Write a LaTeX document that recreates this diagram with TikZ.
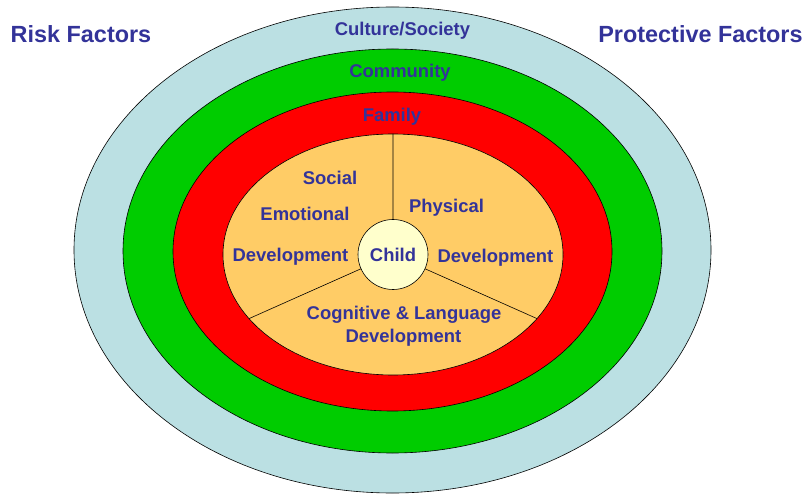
\documentclass[tikz,border=0pt]{standalone}
\usepackage{fontspec}
\setmainfont{Liberation Sans}
\usetikzlibrary{shapes.geometric}
\definecolor{txtblue}{HTML}{333399}
\definecolor{culturec}{HTML}{BBE0E3}
\definecolor{communityc}{HTML}{00CC00}
\definecolor{familyc}{HTML}{FF0000}
\definecolor{corec}{HTML}{FFCC66}
\definecolor{childc}{HTML}{FFFFCC}

\begin{document}
\begin{tikzpicture}[x=1bp,y=-1bp,
    ring/.style={ellipse, draw=black, line width=0.6bp, inner sep=0pt},
    lbl/.style={anchor=base, text=txtblue, inner sep=0pt, font=\bfseries\fontsize{18.5}{20}\selectfont},
    title/.style={lbl, font=\bfseries\fontsize{23.5}{26}\selectfont}]
        \useasboundingbox (0,0) rectangle (806,495);

        \node [ring, fill=culturec, minimum width=637bp, minimum height=486bp] (culture) at (392.5,250) {};
        \node [ring, fill=communityc, minimum width=539bp, minimum height=404bp] (community) at (392.5,251) {};
        \node [ring, fill=familyc, minimum width=439bp, minimum height=319bp] (family) at (392.5,251.5) {};
        \node [ring, fill=corec, minimum width=340bp, minimum height=241bp] (core) at (393,254.5) {};
        \node [circle, draw=black, line width=0.6bp, fill=childc, minimum size=70bp, inner sep=0pt,
               text=txtblue, font=\bfseries\fontsize{18.5}{20}\selectfont] (child) at (393,254.5) {Child};

    \draw[line width=0.6bp]
        (child.north) -- (core.north)
        (child.204) -- (core.204)
        (child.336) -- (core.336)
        ;

        \node [title] (risk) at (81,43) {Risk Factors};
        \node [title] (protective) at (700.5,42.5) {Protective Factors};

        \node [lbl] (culturelbl) at (402.5,36) {Culture/Society};
        \node [lbl] (communitylbl) at (400,77.5) {Community};
        \node [lbl] (familylbl) at (392,121.5) {Family};

        \node [lbl] (social) at (330,185) {Social};
        \node [lbl] (emotional) at (305,220.5) {Emotional};
        \node [lbl] (devleft) at (290.5,261.5) {Development};
        \node [lbl] (physical) at (446.5,213) {Physical};
        \node [lbl] (devright) at (495.5,262.5) {Development};
        \node [lbl] (cognitive) at (404,319.5) {Cognitive \& Language};
        \node [lbl] (devbottom) at (403.5,342.5) {Development};
    \end{tikzpicture}
\end{document}
